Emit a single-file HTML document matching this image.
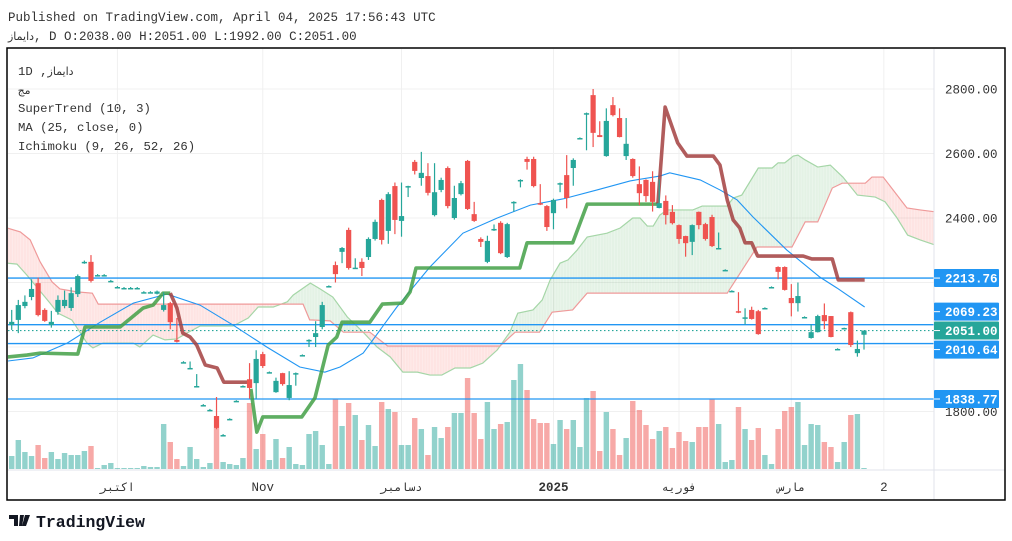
<!DOCTYPE html>
<html><head><meta charset="utf-8">
<style>
html,body{margin:0;padding:0;background:#fff;width:1012px;height:541px;overflow:hidden}
svg{display:block}
text{font-family:"Liberation Mono","DejaVu Sans Mono",monospace}
</style></head>
<body>
<svg id="chart" width="1012" height="541" viewBox="0 0 1012 541" xmlns="http://www.w3.org/2000/svg">
  <text x="8" y="21" font-size="12.5" fill="#333">Published on TradingView.com, April 04, 2025 17:56:43 UTC</text>
  <text x="8" y="40" font-size="12.5" fill="#333"><tspan font-family="DejaVu Sans, sans-serif" font-size="11">دایماز</tspan>, D O:2038.00 H:2051.00 L:1992.00 C:2051.00</text>
  <g id="grid"></g>
  <g id="cloud"></g>
  <g id="vols"></g>
  <g id="hlines"></g>
  <g id="ma"></g>
  <g id="st"></g>
  <g id="candles"></g>
  <g id="axes"></g>
  <g font-size="12.3" fill="#333">
    <text x="18" y="75">1D ,<tspan font-family="DejaVu Sans, sans-serif" font-size="11">دایماز</tspan></text>
    <text x="18" y="94" font-family="DejaVu Sans, sans-serif" font-size="11">مج</text>
    <text x="18" y="112">SuperTrend (10, 3)</text>
    <text x="18" y="131">MA (25, close, 0)</text>
    <text x="18" y="150">Ichimoku (9, 26, 52, 26)</text>
  </g>
  <g>
    <path d="M9 515 h9 v11 h-4 v-7 h-5z M20 515 h4 l-2 11 h-3z M25 515 h5 l-4 11 h-4z" fill="#131722"/>
    <text x="36" y="527" font-family="Liberation Sans, sans-serif" font-weight="bold" font-size="16.5" fill="#131722">TradingView</text>
  </g>
</svg>
<script>
// ---- data ----
const opens  = [2068,2084,2127,2155,2198,2115,2068,2109,2127,2121,2164,2261,2264,2222,2222,2204,2185,2182,2182,2182,2169,2169,2165,2115,2136,2022,1952,1934,1876,1819,1804,1786,1726,1776,1832,1878,1900,1888,1978,1921,1860,1919,1842,1918,1974,2021,2031,2062,2188,2254,2295,2363,2243,2264,2279,2335,2456,2360,2499,2391,2498,2574,2524,2530,2409,2487,2555,2400,2474,2577,2412,2335,2264,2365,2385,2279,2448,2517,2583,2583,2446,2437,2415,2507,2533,2555,2647,2722,2781,2657,2592,2750,2710,2592,2583,2505,2518,2512,2431,2453,2419,2378,2344,2326,2419,2381,2403,2306,2238,2173,2111,2089,2115,2111,2120,2185,2248,2248,2152,2136,2092,2028,2046,2099,2096,1993,2058,2108,1981,2038];
const closes = [2078,2130,2140,2180,2099,2081,2078,2146,2146,2167,2220,2264,2205,2223,2223,2205,2186,2183,2183,2183,2170,2170,2172,2130,2077,2016,1953,1935,1879,1820,1805,1749,1727,1777,1833,1879,1873,1963,1941,1922,1895,1885,1882,1919,1975,2022,2043,2130,2189,2226,2307,2245,2246,2245,2335,2388,2332,2474,2394,2406,2499,2546,2540,2478,2480,2518,2437,2462,2508,2428,2391,2326,2329,2366,2291,2381,2450,2518,2574,2499,2443,2372,2456,2508,2462,2580,2648,2725,2664,2651,2701,2719,2651,2630,2530,2477,2468,2450,2446,2409,2384,2335,2322,2378,2378,2335,2313,2307,2239,2174,2108,2092,2087,2040,2121,2186,2233,2177,2136,2158,2093,2046,2096,2080,2031,1994,2059,2006,1994,2051];
const highs  = [2115,2146,2160,2210,2215,2120,2112,2160,2175,2185,2225,2268,2285,2226,2226,2208,2189,2186,2186,2186,2173,2173,2175,2170,2140,2090,1956,1955,1916,1823,1808,1845,1730,1779,1835,1881,1950,1990,1985,1924,1905,1920,1925,1921,1977,2024,2080,2140,2191,2265,2310,2370,2275,2275,2340,2395,2460,2480,2510,2510,2500,2580,2605,2570,2570,2525,2560,2500,2515,2580,2450,2340,2345,2380,2390,2385,2452,2520,2590,2590,2505,2440,2460,2510,2595,2585,2650,2727,2800,2700,2740,2775,2740,2710,2585,2560,2520,2545,2520,2470,2440,2380,2345,2380,2420,2385,2410,2355,2241,2176,2170,2120,2125,2115,2123,2188,2250,2250,2195,2200,2095,2070,2100,2135,2096,1996,2060,2110,2020,2051];
const lows   = [2053,2043,2120,2145,2095,2078,2060,2100,2120,2112,2155,2258,2200,2220,2220,2203,2184,2181,2181,2181,2168,2168,2163,2110,2055,2014,1951,1932,1875,1818,1803,1745,1725,1775,1830,1876,1840,1840,1935,1919,1858,1880,1835,1880,1972,2000,2000,2055,2186,2200,2260,2240,2243,2220,2270,2330,2318,2320,2350,2342,2465,2535,2500,2470,2405,2480,2430,2395,2470,2425,2388,2310,2260,2360,2288,2276,2420,2495,2550,2495,2440,2360,2365,2480,2430,2500,2645,2610,2620,2651,2590,2715,2650,2580,2525,2440,2450,2420,2430,2380,2380,2320,2280,2285,2365,2330,2310,2304,2236,2171,2105,2070,2085,2038,2118,2183,2210,2175,2095,2110,2090,2026,2045,2055,2030,1992,2056,2000,1970,1992];
const volumes = [13,29,17,13,24,11,17,10,16,14,14,18,23,1,4,6,1,1,1,1,3,2,2,45,27,10,3,22,10,2,6,41,7,5,4,11,66,20,35,9,30,11,22,5,4,35,38,24,5,70,43,66,54,29,44,23,67,60,57,24,24,51,40,14,42,31,42,56,56,91,56,30,67,40,45,47,89,105,79,50,46,46,25,49,40,49,22,71,78,18,57,40,14,31,68,59,44,30,38,42,21,37,28,27,42,42,70,45,7,9,62,40,29,41,14,5,40,58,62,67,24,45,44,27,22,7,27,54,55,1];
const maIdx = [-2,3.2,8.4,13.4,18.4,23.5,28.5,33.5,38.6,43.6,47.4,49.7,53.2,58.3,63.3,68.3,73.5,78.5,83.4,88.6,93.6,98.1,99.6,104.2,107.2,109.8,112.2,117.3,122.3,124.9,129.1];
const maVal = [1953,1966,2012,2077,2136,2164,2130,2068,2000,1938,1922,1938,1981,2124,2248,2353,2400,2440,2459,2487,2515,2530,2540,2518,2487,2456,2403,2301,2217,2183,2124];
const stUpIdx1 = [-0.7,2.3,4.3,10.0,11.1,16.4,19.9,21.4,22.9,24.0];
const stUpVal1 = [1969,1975,1981,1978,2062,2062,2121,2130,2167,2167];
const stDnIdx1 = [24.0,25.0,25.9,27.0,28.0,29.3,31.1,32.1,36.1];
const stDnVal1 = [2167,2121,2043,2031,2006,1944,1935,1891,1891];
const stUpIdx2 = [36.2,37.1,38.0,43.9,45.9,47.9,49.2,50.0,54.2,56.1,59.1,60.3,61.2,76.9,78.0,84.9,87.1,97.8];
const stUpVal2 = [1870,1736,1783,1783,1842,2006,2031,2077,2077,2133,2136,2171,2245,2245,2323,2323,2443,2443];
const stDnIdx2 = [97.8,98.9,100.8,102.2,106.2,107.2,108.3,109.2,110.2,111.0,112.0,112.9,119.8,121.1,124.2,125.1,129.1];
const stDnVal2 = [2443,2744,2633,2592,2592,2564,2456,2394,2369,2323,2323,2282,2282,2273,2273,2208,2208];
const spanBIdx = [-0.7,1.3,2.8,4.3,6.1,7.3,9.9,12.2,13.1,44.1,45.1,48.2,50.2,54.2,56.9,73.9,76.2,79.9,81.8,84.9,87.1,108.3,112.8,118.1,120.1,122.0,124.2,125.7,129.2,130.2,131.9,135.5,137.5,139.8];
const spanBVal = [2369,2357,2332,2264,2202,2180,2171,2167,2133,2133,2084,2081,2046,2046,2003,2003,2046,2046,2108,2115,2167,2167,2310,2310,2388,2388,2493,2508,2508,2527,2527,2431,2425,2419];
const spanAIdx = [-0.7,0.8,2.3,5.8,7.0,9.1,11.4,12.3,13.8,18.4,19.4,21.4,23.2,25.0,26.5,28.5,33.5,35.8,37.3,39.6,41.7,42.6,45.2,46.7,48.6,50.8,53.2,55.3,57.3,59.2,61.4,63.3,65.1,67.1,69.4,71.3,73.5,75.4,76.6,78.9,80.3,81.5,83.0,84.2,85.6,87.1,90.1,92.1,94.0,95.1,96.2,97.1,98.1,99.2,103.1,104.5,108.3,109.2,110.5,113.0,115.1,116.0,117.0,118.3,119.0,120.1,122.0,123.9,125.8,128.0,130.7,132.2,134.0,135.6,137.5,139.8];
const spanAVal = [2260,2257,2223,2136,2105,2084,2012,1997,2012,2012,2000,2037,2022,2025,2043,2065,2065,2090,2124,2124,2140,2161,2198,2180,2155,2093,2046,2000,1969,1922,1922,1913,1913,1935,1935,1950,1991,2046,2105,2115,2146,2208,2260,2270,2301,2341,2353,2369,2400,2400,2375,2375,2409,2425,2425,2437,2437,2462,2471,2555,2555,2571,2571,2592,2595,2580,2558,2564,2527,2471,2465,2450,2400,2347,2332,2316];
const hlineVals = [2213.76,2069.23,2010.64,1838.77];
const lastClose = 2051.00;
const priceTicks = [2800,2600,2400,2200,2000,1800];
const priceTickLabels = ["2800.00","2600.00","2400.00","","","1800.00"];
const timeTickIdx = [16.0,38.0,59.0,82.0,101.0,118.0,132.0];
const timeTickLabels = ["اكتبر","Nov","دسامبر","2025","فوريه","مارس","2"];

// ---- scales ----
const L=8, R=934, T=49, B=470;
const X = i => 11.7 + 6.607*i;
const Y = p => 89 + (2800-p)*0.3225;
const VY = v => 469 - v;
const NS="http://www.w3.org/2000/svg";
function mk(tag, attrs, parent){const e=document.createElementNS(NS,tag);for(const k in attrs)e.setAttribute(k,attrs[k]);parent.appendChild(e);return e;}
const $=id=>document.getElementById(id);

const defs=mk('defs',{},$('chart'));
const cp=mk('clipPath',{id:'plot'},defs);mk('rect',{x:L,y:T,width:R-L,height:B-T},cp);
['grid','cloud','vols','hlines','ma','st','candles'].forEach(id=>$(id).setAttribute('clip-path','url(#plot)'));

priceTicks.forEach((p,k)=>{
  const l=mk('line',{x1:L,x2:R,y1:Y(p),y2:Y(p),stroke:'#f0f0f0','stroke-width':1},$('grid'));
  
  
});
timeTickIdx.forEach((t,k)=>{
  const l=mk('line',{x1:X(t),x2:X(t),y1:T,y2:B,stroke:'#f0f0f0','stroke-width':1},$('grid'));
  
  
});

function interp(xs,vs,x){if(x<=xs[0])return vs[0];for(let k=1;k<xs.length;k++){if(x<=xs[k]){const t=(x-xs[k-1])/(xs[k]-xs[k-1]);return vs[k-1]+t*(vs[k]-vs[k-1]);}}return vs[vs.length-1];}
const c0=Math.max(spanAIdx[0],spanBIdx[0]), c1=Math.min(spanAIdx[spanAIdx.length-1],spanBIdx[spanBIdx.length-1]);
const N=600;
for(let s=0;s<N;s++){
  const a=c0+(c1-c0)*s/N, b=c0+(c1-c0)*(s+1)/N;
  const A1=interp(spanAIdx,spanAVal,a),A2=interp(spanAIdx,spanAVal,b),B1=interp(spanBIdx,spanBVal,a),B2=interp(spanBIdx,spanBVal,b);
  const up=(A1+A2)>=(B1+B2);
  const poly=mk('polygon',{points:`${X(a)},${Y(A1)} ${X(b)+0.3},${Y(A2)} ${X(b)+0.3},${Y(B2)} ${X(a)},${Y(B1)}`,fill:up?'rgba(67,160,71,0.11)':'rgba(244,67,54,0.11)'},$('cloud'));
  
  
}
const pa=mk('polyline',{points:spanAIdx.map((t,k)=>X(t)+','+Y(spanAVal[k])).join(' '),fill:'none',stroke:'#a5d6a7','stroke-width':1.2},$('cloud'));


const pb=mk('polyline',{points:spanBIdx.map((t,k)=>X(t)+','+Y(spanBVal[k])).join(' '),fill:'none',stroke:'#ef9a9a','stroke-width':1.2},$('cloud'));



volumes.forEach((v,i)=>{
  const up=closes[i]>=opens[i];
  const r=mk('rect',{x:X(i)-2.7,y:VY(v),width:5.4,height:v,fill:up?'rgba(38,166,154,0.5)':'rgba(239,83,80,0.5)'},$('vols'));
  
  
});

hlineVals.forEach(p=>{
  const l=mk('line',{x1:L,x2:R,y1:Y(p),y2:Y(p),stroke:'#2196f3','stroke-width':1.3},$('hlines'));
  
  
});
const lc=mk('line',{x1:L,x2:R,y1:Y(lastClose),y2:Y(lastClose),stroke:'#26a69a','stroke-width':1.2,'stroke-dasharray':'1.5 2.5'},$('hlines'));



const mal=mk('polyline',{points:maIdx.map((t,k)=>X(t)+','+Y(maVal[k])).join(' '),fill:'none',stroke:'#2196f3','stroke-width':1.1},$('ma'));



[[stUpIdx1,stUpVal1,'#43a047'],[stDnIdx1,stDnVal1,'#a3403f'],[stUpIdx2,stUpVal2,'#43a047'],[stDnIdx2,stDnVal2,'#a3403f']].forEach(([xi,vi,c],k)=>{
  const l=mk('polyline',{points:xi.map((t,j)=>X(t)+','+Y(vi[j])).join(' '),fill:'none',stroke:c,'stroke-width':3.6,'stroke-opacity':0.85,'stroke-linejoin':'round'},$('st'));
  
  
});

opens.forEach((o,i)=>{
  const c=closes[i],up=c>=o,col=up?'#26a69a':'#ef5350',x=X(i);
  const g=mk('g',{},$('candles'));
  
  
  mk('line',{x1:x,x2:x,y1:Y(highs[i]),y2:Y(lows[i]),stroke:col,'stroke-width':1.2},g);
  const top=Y(Math.max(o,c)),h=Math.max(1.5,Y(Math.min(o,c))-top);
  mk('rect',{x:x-2.6,y:top,width:5.2,height:h,fill:col},g);
});

const ax=$('axes');
mk('line',{x1:R,x2:R,y1:T,y2:500,stroke:'#e0e3eb','stroke-width':1},ax);
mk('line',{x1:L,x2:1005,y1:B,y2:B,stroke:'#e0e3eb','stroke-width':1},ax);
const fr=mk('rect',{x:7,y:48,width:998,height:452,fill:'none',stroke:'#000','stroke-width':1.5},ax);


priceTicks.forEach((p,k)=>{
  if(!priceTickLabels[k])return;
  const t=mk('text',{x:945,y:Y(p)+4.5,'font-size':12.5,fill:'#333'},ax);
  t.textContent=priceTickLabels[k];
  
  
});
timeTickIdx.forEach((ti,k)=>{
  const t=mk('text',{x:X(ti),y:491,'font-size':12.5,fill:'#333','text-anchor':'middle'},ax);
  if(/[\u0600-\u06FF]/.test(timeTickLabels[k])){t.setAttribute('font-family','DejaVu Sans, sans-serif');t.setAttribute('font-size','11.5');}
  if(timeTickLabels[k]==='2025')t.setAttribute('font-weight','bold');
  t.textContent=timeTickLabels[k];
  
  
});
const tags=[[2213.76,'#2196f3',0],[2069.23,'#2196f3',-13],[2051.00,'#26a69a',0],[2010.64,'#2196f3',6],[1838.77,'#2196f3',0]];
tags.forEach(([p,c,off])=>{
  const yy=Y(p)+off;
  const g=mk('g',{},ax);
  
  
  mk('rect',{x:934,y:yy-9,width:65,height:18,fill:c,rx:1},g);
  mk('line',{x1:934,x2:940,y1:yy,y2:yy,stroke:'#fff','stroke-width':1},g);
  const t=mk('text',{x:945,y:yy+4.5,'font-size':12.5,'font-weight':'bold',fill:'#fff'},g);
  t.textContent=p.toFixed(2);
});
</script>
</body></html>
